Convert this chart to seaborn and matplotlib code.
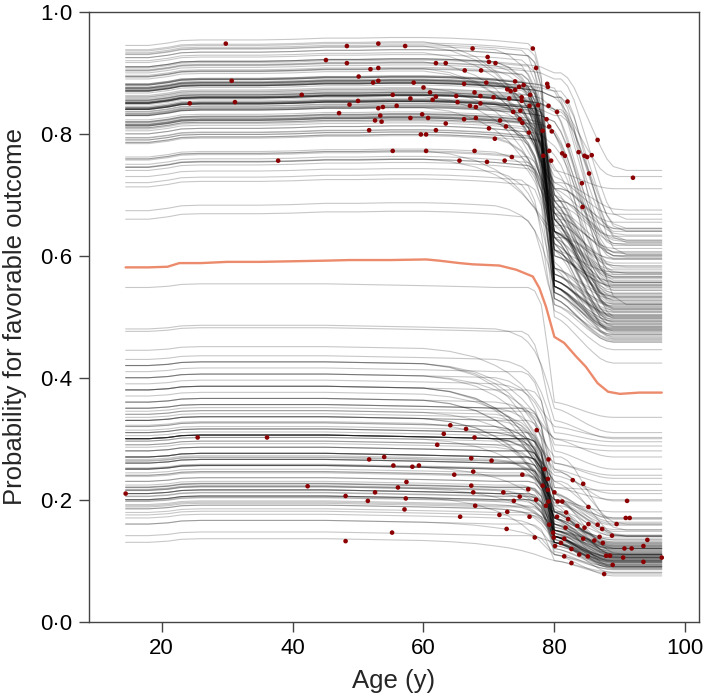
import numpy as np
import pandas as pd
import matplotlib
matplotlib.use("Agg")
import matplotlib.pyplot as plt
import seaborn as sns

# ---------------- data ----------------
age_grid = [14.5, 18, 21, 23, 26, 30, 35, 40, 45, 50, 55, 60, 64, 68, 71, 73, 75, 76,
            77, 78, 79, 80, 81, 82, 83, 84, 85, 86, 87, 88, 89, 91, 93, 96.4]

# fraction of the first (pre-80 y) drop still remaining, per drop timing
drop1_sharp = [1]*18 + [.97, .85, .45] + [0]*13
drop1_sharp2 = [1]*17 + [.96, .85, .6, .25] + [0]*13
drop1_mid = [1]*15 + [.97, .9, .83, .72, .55, .3] + [0]*13
drop1_early = [1]*12 + [.97, .9, .8, .7, .55, .45, .35, .22, .1] + [0]*13
# fraction of the second (post-80 y) drop still remaining
drop2_std = [1]*22 + [.92, .8, .65, .5, .35, .22, .1, .03] + [0]*4
drop2_late = [1]*23 + [.95, .85, .7, .55, .4, .25, .12, .04, 0] + [0]*2
# small plateau drift of the curves
drift_hi = [0, 0, .004, .008, .009, .009, .009, .01, .012, .012, .013, .013, .012, .01,
            .008, .006, .004, .003, .002, .001, 0] + [0]*13
drift_lo = [0, 0, .002, .005, .006, .006, .006, .006, .006, .005, .004, .003, .002, .001,
            0, 0, 0, 0, 0, 0, 0] + [0]*13

# upper cluster of ICE curves: start level, level at 80 y, end level, shape
hi_start = [.841, .938, .877, .842, .746, .854, .910, .823, .933, .905,
            .837, .842, .882, .794, .894, .872, .810, .936, .896, .875,
            .830, .818, .808, .832, .851, .759, .833, .931, .845, .813,
            .871, .786, .819, .863, .786, .759, .813, .855, .843, .848,
            .903, .793, .904, .805, .851, .841, .745, .871, .813, .893,
            .836, .930, .858, .762, .834, .816, .852, .840, .894, .875,
            .745, .917, .910, .800, .852, .784, .908, .815, .750, .810,
            .867, .852, .874, .757, .831, .881, .882, .873, .820, .855,
            .856, .850, .814, .876, .840, .843, .861, .945, .925, .870,
            .880, .850, .830, .880, .875, .850, .815, .790, .790, .820,
            .850, .840, .840, .880, .860, .870, .830, .800, .850, .870,
            .840, .900, .910, .870,
            .713, .720, .730, .740, .674, .660, .925, .920, .890]
hi_mid = [.56, .72, .64, .65, .64, .57, .67, .63, .70, .71,
          .54, .64, .68, .54, .71, .66, .62, .61, .68, .67,
          .67, .55, .61, .64, .56, .63, .64, .73, .65, .55,
          .69, .61, .55, .69, .62, .53, .63, .66, .56, .68,
          .71, .54, .69, .63, .57, .64, .59, .58, .63, .70,
          .56, .71, .67, .61, .55, .62, .65, .56, .69, .67,
          .53, .70, .70, .54, .66, .61, .60, .63, .53, .62,
          .68, .57, .66, .58, .56, .69, .66, .58, .64, .64,
          .57, .66, .55, .68, .64, .56, .67, .60, .58, .66,
          .55, .55, .82, .875, .87, .84, .805, .765, .745, .80,
          .836, .80, .80, .87, .84, .86, .82, .78, .84, .86,
          .83, .89, .90, .86,
          .50, .51, .55, .52, .55, .52, .60, .74, .72]
hi_end = [.503, .655, .577, .520, .596, .517, .612, .485, .565, .634,
          .468, .552, .538, .478, .645, .512, .543, .573, .618, .497,
          .588, .492, .474, .566, .507, .582, .483, .668, .571, .488,
          .526, .533, .479, .623, .472, .461, .548, .515, .496, .607,
          .556, .481, .626, .494, .521, .569, .466, .529, .556, .544,
          .501, .642, .509, .531, .487, .476, .584, .499, .547, .603,
          .458, .553, .632, .477, .513, .536, .558, .491, .463, .539,
          .524, .508, .594, .464, .502, .532, .598, .518, .489, .573,
          .511, .498, .484, .522, .563, .504, .514, .551, .534, .527,
          .493, .482, .600, .640, .620, .605, .580, .560, .565, .595,
          .622, .500, .556, .602, .570, .520, .617, .600, .625, .640,
          .645, .660, .740, .730,
          .424, .446, .470, .459, .480, .471, .550, .710, .675]
hi_kind = ['Sa', 'Ea', 'Ma', 'Ta', 'Ea', 'Sa', 'Ma', 'Sa', 'Ta', 'Eb',
           'Sa', 'Ma', 'Ta', 'Sa', 'Ea', 'Ta', 'Ma', 'Sa', 'Mb', 'Ta',
           'Ea', 'Sa', 'Sa', 'Ma', 'Ta', 'Eb', 'Ta', 'Ea', 'Mb', 'Sa',
           'Ta', 'Ma', 'Sa', 'Eb', 'Ta', 'Sa', 'Ma', 'Ta', 'Sa', 'Ea',
           'Ta', 'Sa', 'Mb', 'Ta', 'Sa', 'Ma', 'Sa', 'Ta', 'Ma', 'Ta',
           'Sa', 'Mb', 'Ta', 'Ma', 'Sa', 'Ta', 'Ma', 'Sa', 'Ta', 'Mb',
           'Sa', 'Ta', 'Ma', 'Sa', 'Ta', 'Ma', 'Sa', 'Ta', 'Sa', 'Ma',
           'Ta', 'Sa', 'Ma', 'Ta', 'Sa', 'Ta', 'Mb', 'Sa', 'Ta', 'Ma',
           'Sa', 'Sa', 'Sa', 'Sa', 'Ma', 'Sa', 'Sa', 'Sa', 'Sa', 'Sa',
           'Sa', 'Sa', 'Sa', 'Sa', 'Sa', 'Sa', 'Sa', 'Sa', 'Sa', 'Sa',
           'Sb', 'Sa', 'Sa', 'Sb', 'Sa', 'Sb', 'Sa', 'Sa', 'Sb', 'Sb',
           'Sb', 'Sb', 'Sb', 'Sa',
           'Sa', 'Ta', 'Ma', 'Sa', 'Ma', 'Ta', 'Sa', 'Ea', 'Eb']

# lower cluster of ICE curves
lo_start = [.21, .296, .296, .216, .20, .13, .192, .26, .206, .264,
            .141, .251, .215, .179, .197, .224, .25, .252, .286, .305,
            .322, .238, .17, .314, .266, .221, .244, .21, .30, .188,
            .263, .175, .21, .16, .185, .198, .215, .24, .217, .185,
            .20, .205, .33, .25, .31, .23, .35, .30, .40, .27,
            .19, .30, .26, .36, .22, .30, .33, .27, .38, .28,
            .21, .29, .33, .31, .25, .20, .42, .30, .27, .42,
            .28, .32, .26, .38, .33, .29, .34, .30, .31, .27,
            .16, .24, .25, .32, .20, .36, .23, .27, .38, .40,
            .35, .30, .28, .22, .30, .26,
            .548, .48, .476, .445, .43, .42, .41, .40, .39, .38,
            .37, .36, .35, .34, .345, .335]
lo_mid = [.13, .20, .17, .15, .13, .10, .14, .17, .14, .17,
          .11, .17, .16, .13, .14, .16, .18, .15, .18, .18,
          .20, .145, .12, .18, .17, .14, .165, .14, .18, .13,
          .17, .13, .16, .13, .14, .15, .14, .145, .14, .13,
          .11, .14, .15, .14, .15, .14, .15, .145, .22, .15,
          .14, .13, .13, .212, .125, .175, .20, .135, .21, .145,
          .115, .17, .195, .185, .135, .11, .245, .19, .14, .27,
          .155, .18, .14, .23, .20, .16, .20, .16, .19, .15,
          .10, .13, .14, .18, .12, .21, .135, .15, .23, .25,
          .21, .16, .155, .125, .17, .14,
          .36, .35, .33, .32, .31, .30, .29, .30, .28, .26,
          .26, .25, .22, .24, .20, .20]
lo_end = [.102, .151, .118, .112, .097, .081, .104, .114, .099, .131,
          .086, .109, .122, .093, .106, .108, .141, .116, .128, .124,
          .158, .111, .089, .121, .134, .101, .113, .095, .126, .094,
          .117, .091, .103, .088, .107, .098, .105, .119, .100, .096,
          .090, .110, .129, .102, .115, .097, .123, .108, .200, .112,
          .100, .104, .099, .163, .100, .130, .148, .090, .120, .092,
          .085, .090, .110, .110, .080, .075, .160, .110, .087, .150,
          .120, .110, .090, .140, .140, .125, .140, .137, .142, .127,
          .078, .107, .105, .140, .093, .160, .105, .120, .170, .198,
          .168, .120, .124, .098, .134, .105,
          .335, .310, .300, .302, .295, .288, .280, .270, .250, .240,
          .235, .225, .215, .210, .180, .170]
lo_kind = ['Sa', 'Ea', 'Ta', 'Ma', 'Sa', 'Ea', 'Ma', 'Ta', 'Sa', 'Ma',
           'Sa', 'Ta', 'Ea', 'Sa', 'Ma', 'Ta', 'Ea', 'Sa', 'Ma', 'Ta',
           'Ea', 'Sa', 'Ma', 'Ta', 'Ma', 'Sa', 'Ta', 'Ma', 'Ta', 'Sa',
           'Ta', 'Sa', 'Ta', 'Ea', 'Ma', 'Ta', 'Ma', 'Sa', 'Sa', 'Ma',
           'Ea', 'Sa', 'Sa', 'Sa', 'Sa', 'Sa', 'Sa', 'Sa', 'Ma', 'Sa',
           'Sa', 'Sa', 'Sa', 'Ea', 'Sa', 'Ma', 'Ea', 'Sa', 'Ea', 'Sa',
           'Sa', 'Ma', 'Ea', 'Ma', 'Sa', 'Sa', 'Eb', 'Ma', 'Sa', 'Eb',
           'Sa', 'Mb', 'Sa', 'Eb', 'Ma', 'Sa', 'Mb', 'Sa', 'Mb', 'Sa',
           'Sa', 'Sa', 'Sb', 'Mb', 'Sa', 'Ea', 'Sa', 'Sa', 'Ea', 'Ea',
           'Ma', 'Sa', 'Sa', 'Sa', 'Ma', 'Sa',
           'Sa', 'Ma', 'Ta', 'Ea', 'Ma', 'Ea', 'Ta', 'Ea', 'Ma', 'Sa',
           'Ea', 'Ma', 'Ta', 'Ea', 'Sa', 'Ma']

# average curve (orange)
mean_age = [14.5, 18, 20.9, 22.7, 26, 30, 35, 40, 45, 48.7, 55, 60.4, 62.4, 65.5, 67.5,
            71.6, 74.2, 76.7, 77.7, 78.7, 80.0, 81.5, 83.3, 84.8, 86.6, 88.2, 90, 93, 96.4]
mean_val = [.581, .581, .582, .588, .588, .590, .590, .591, .592, .593, .593, .594, .592,
            .588, .586, .584, .577, .566, .547, .517, .467, .457, .435, .418, .391, .377,
            .3735, .3756, .3756]

# observed patients (red points)
dot_age = [24.3, 29.8, 30.7, 31.2, 37.8, 41.4, 45.1, 47.1, 48.3, 48.3, 48.7, 50.0, 50.1,
           51.7, 51.9, 52.3, 52.6, 53.1, 53.1, 53.1, 53.1, 53.4, 53.6, 53.8, 55.3, 55.3,
           55.9, 57.2, 58.0, 58.0, 58.5, 59.6, 59.8, 60.0, 60.4, 60.4, 60.7, 61.0, 61.4,
           61.9, 61.9, 61.9, 63.4, 63.4, 65.0, 65.2, 65.5, 66.2, 66.2, 66.3, 67.1, 67.5,
           67.8, 67.8, 68.0, 68.0, 68.7, 68.7, 68.8, 69.6, 69.7, 69.8, 70.0, 70.0, 70.7,
           70.9, 71.0, 71.7, 72.4, 72.6, 72.8, 73.1, 73.3, 73.5, 73.7, 74.0, 74.0, 74.6,
           74.7, 74.8, 75.0, 75.0, 75.1, 75.3, 76.1, 76.2, 76.3, 76.7, 77.2, 77.5, 78.2,
           78.3, 78.8, 78.9, 79.0, 79.1, 79.2, 79.2, 79.5, 79.6, 80.4, 81.2, 81.6, 82.0,
           82.1, 83.7, 84.2, 84.3, 84.6, 85.0, 85.3, 85.7, 86.6, 92.0,
           14.5, 25.5, 36.1, 42.3, 48.1, 48.1, 51.5, 51.7, 52.6, 54.0, 55.2, 55.4, 56.1,
           57.1, 57.3, 57.4, 58.3, 59.3, 62.1, 63.1, 64.1, 64.7, 65.6, 66.5, 67.3, 67.3,
           67.6, 67.6, 67.8, 67.9, 70.4, 71.6, 72.2, 72.7, 72.8, 73.8, 74.7, 75.1, 76.0,
           76.2, 77.0, 77.2, 77.3, 78.2, 78.5, 78.7, 79.0, 79.0, 79.1, 79.1, 79.2, 79.8,
           79.9, 80.0, 80.1, 80.4, 80.5, 81.0, 81.2, 81.5, 81.5, 81.7, 81.8, 82.1, 82.6,
           82.6, 82.8, 83.5, 83.8, 84.4, 84.4, 84.6, 85.1, 85.2, 85.2, 86.1, 86.6, 86.9,
           87.3, 87.4, 87.6, 87.9, 88.5, 88.8, 88.9, 89.5, 90.5, 90.7, 90.9, 91.1, 91.5,
           91.8, 93.6, 93.6, 94.2, 96.4]
dot_val = [.850, .948, .887, .852, .756, .864, .921, .834, .944, .916, .848, .854, .894,
           .806, .906, .884, .822, .948, .908, .887, .842, .830, .820, .844, .864, .772,
           .846, .944, .858, .826, .884, .799, .832, .876, .799, .772, .826, .868, .856,
           .861, .916, .806, .916, .817, .862, .852, .756, .882, .824, .904, .846, .940,
           .868, .772, .844, .826, .862, .850, .904, .884, .754, .926, .918, .809, .860,
           .792, .916, .822, .756, .812, .873, .858, .870, .762, .836, .886, .872, .877,
           .824, .838, .860, .854, .818, .880, .802, .846, .864, .940, .908, .847, .805,
           .764, .824, .882, .877, .846, .812, .772, .756, .804, .836, .768, .764, .853,
           .781, .770, .719, .680, .764, .762, .735, .765, .790, .728,
           .210, .302, .302, .222, .206, .132, .198, .266, .212, .270, .146, .256, .220,
           .184, .202, .229, .254, .256, .290, .308, .322, .241, .172, .316, .268, .223,
           .246, .212, .302, .190, .264, .175, .212, .152, .180, .198, .205, .241, .217,
           .172, .138, .200, .314, .223, .250, .190, .234, .216, .266, .197, .159, .146,
           .138, .212, .124, .172, .197, .129, .197, .136, .107, .154, .179, .168, .119,
           .096, .232, .157, .110, .226, .136, .154, .107, .188, .160, .133, .159, .139,
           .152, .129, .078, .108, .108, .141, .093, .160, .105, .120, .170, .198, .170,
           .120, .124, .098, .134, .105]

y_ticks = [0.0, 0.2, 0.4, 0.6, 0.8, 1.0]
y_tick_labels = ['0·0', '0·2', '0·4', '0·6', '0·8', '1·0']
x_ticks = [20, 40, 60, 80, 100]

# ---------------- build curves ----------------
first = {'S': drop1_sharp, 'T': drop1_sharp2, 'M': drop1_mid, 'E': drop1_early}
second = {'a': drop2_std, 'b': drop2_late}
ages = np.array(age_grid)
rows = []
uid = 0
for starts, mids, ends, kinds, drift in [(hi_start, hi_mid, hi_end, hi_kind, drift_hi),
                                         (lo_start, lo_mid, lo_end, lo_kind, drift_lo)]:
    for L, M, R, k in zip(starts, mids, ends, kinds):
        f1 = np.array(first[k[0]])
        f2 = np.array(second[k[1]])
        y = R + (M - R) * f2 + (L - M) * f1 + np.array(drift)
        for a, v in zip(ages, y):
            rows.append((uid, a, v))
        uid += 1
ice = pd.DataFrame(rows, columns=['line', 'age', 'prob'])

# ---------------- draw ----------------
sns.set_style('ticks')
plt.rcParams['font.family'] = ['Liberation Sans', 'DejaVu Sans']

fig = plt.figure(figsize=(7.09, 7.0), dpi=100)
ax = fig.add_axes([0.1255, 0.112, 0.8605, 0.871])

sns.lineplot(data=ice, x='age', y='prob', units='line', estimator=None,
             color='black', alpha=0.22, linewidth=0.8, ax=ax, legend=False)
sns.lineplot(x=mean_age, y=mean_val, color='#EC8A6C', linewidth=1.7, ax=ax)
sns.scatterplot(x=dot_age, y=dot_val, color='#8B0000', s=11, edgecolor='none',
                zorder=4, ax=ax)

ax.set_xlim(8.9, 102.1)
ax.set_ylim(0, 1)
ax.set_xticks(x_ticks)
ax.set_yticks(y_ticks)
ax.set_yticklabels(y_tick_labels)
ax.tick_params(direction='out', length=7, width=1, color='#444444', labelsize=16,
               labelcolor='black', pad=5)
for s in ax.spines.values():
    s.set_color('#444444')
    s.set_linewidth(1.0)
    s.set_visible(True)

ax.set_xlabel('Age (y)', fontsize=18.5)
ax.set_ylabel('Probability for favorable outcome', fontsize=18.5)
ax.xaxis.set_label_coords(0.499, -0.078)
ax.yaxis.set_label_coords(-0.102, 0.5)

fig.savefig('out.png', dpi=100)
